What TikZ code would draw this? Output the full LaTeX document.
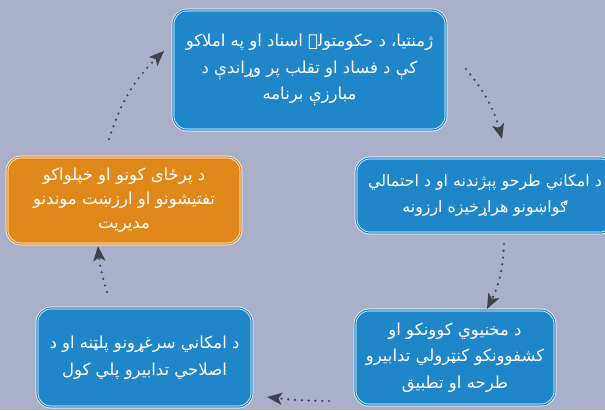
\documentclass[tikz,border=0pt]{standalone}
\usepackage{fontspec}
\newfontfamily\arabicfont[Script=Arabic]{DejaVu Sans}
\TeXXeTstate=1
\usetikzlibrary{arrows.meta}
\definecolor{bgc}{HTML}{ABB0CA}
\definecolor{boxblue}{HTML}{1F87C9}
\definecolor{boxorange}{HTML}{E0891A}
\definecolor{arrc}{HTML}{3E424D}
\begin{document}
\begin{tikzpicture}[x=1pt,y=-1pt,
  box/.style={rectangle, rounded corners=14pt, draw=white, double=#1, double distance=1.2pt, line width=0.7pt,
    fill=#1, text=white, align=center, inner sep=0pt,
    font=\arabicfont\fontsize{16.5}{26.5}\selectfont},
  conn/.style={draw=arrc, line width=2.4pt, line cap=round, dash pattern=on 0pt off 6.8pt,
    -{Stealth[length=15pt,width=12pt,inset=3.5pt]}}
]
\useasboundingbox (0,0) rectangle (605,410);
\clip (0,0) rectangle (605,410);
\fill[bgc] (0,0) rectangle (605,410);

\node[box=boxblue, minimum width=273pt, minimum height=120pt] (top) at (309.5,70)
  {\beginR ژمنتیا، د حکومتولۍ اسناد او په املاکو\endR\\\beginR کې د فساد او تقلب پر وړاندې د\endR\\\beginR مبارزې برنامه\endR};
\node[box=boxblue, minimum width=258pt, minimum height=75pt,
  font=\arabicfont\fontsize{15.8}{26}\selectfont] (right) at (485,195.5)
  {\beginR د امکاني طرحو پېژندنه او د احتمالي\endR\\\beginR ګواښونو هراړخیزه ارزونه\endR};
\node[box=boxblue, minimum width=200pt, minimum height=95pt] (br) at (455,357.5)
  {\beginR د مخنیوي کوونکو او\endR\\\beginR کشفوونکو کنټرولي تدابیرو\endR\\\beginR طرحه او تطبیق\endR};
\node[box=boxblue, minimum width=215pt, minimum height=99pt] (bl) at (144.5,357.5)
  {\beginR د امکاني سرغړونو پلټنه او د\endR\\\beginR اصلاحي تدابیرو پلي کول\endR};
\node[box=boxorange, minimum width=234pt, minimum height=87pt,
  font=\arabicfont\fontsize{16.5}{24}\selectfont] (lt) at (124,200.5)
  {\beginR د پرځای کونو او خپلواکو\endR\\\beginR تفتیشونو او ارزښت موندنو\endR\\\beginR مدیریت\endR};

\coordinate (a1s) at (466,69);  \coordinate (a1e) at (502,139);
\coordinate (a2s) at (504,244); \coordinate (a2e) at (487,309);
\coordinate (a3s) at (329,401); \coordinate (a3e) at (267,397);
\coordinate (a4s) at (107,292); \coordinate (a4e) at (98,246);
\coordinate (a5s) at (109,139); \coordinate (a5e) at (164,51);

\draw[conn] (a1s) to[bend left=12] (a1e);
\draw[conn] (a2s) to[bend left=12] (a2e);
\draw[conn] (a3s) to[bend left=3] (a3e);
\draw[conn] (a4s) to[bend left=6] (a4e);
\draw[conn] (a5s) to[bend left=14] (a5e);
\end{tikzpicture}
\end{document}
